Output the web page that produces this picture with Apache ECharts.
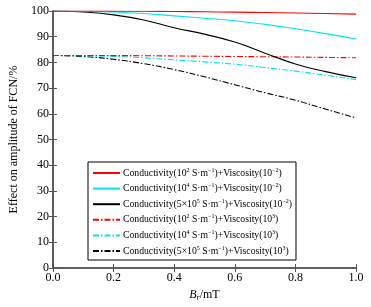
<!DOCTYPE html>
<html>
<head>
<meta charset="utf-8">
<script src="https://cdn.jsdelivr.net/npm/echarts@6/dist/echarts.min.js"></script>
<style>
  html, body { margin: 0; padding: 0; background: #fff; }
  #chart { width: 371px; height: 307px; }
</style>
</head>
<body>
<div id="chart"></div>
<script>
// B_r values (mT)
const br = [0, 0.1, 0.2, 0.3, 0.4, 0.5, 0.6, 0.7, 0.8, 0.9, 1.0];

// effect on amplitude of FCN (%)
const redSolid = [100, 100, 99.95, 99.9, 99.8, 99.7, 99.55, 99.4, 99.2, 99.0, 98.8];
const cyanSolid = [100, 99.9, 99.6, 99.0, 98.1, 97.2, 96.2, 94.8, 93.1, 91.2, 89.1];
const blackSolid = [100, 99.6, 98.5, 96.5, 93.5, 91.0, 87.9, 83.6, 79.4, 76.4, 74.0];
const redDash = [82.7, 82.7, 82.65, 82.6, 82.5, 82.4, 82.3, 82.2, 82.1, 81.95, 81.8];
const cyanDash = [82.7, 82.6, 82.3, 81.8, 81.0, 80.2, 79.3, 78.0, 76.6, 75.0, 73.3];
const blackDash = [82.7, 82.3, 81.2, 79.5, 77.2, 74.4, 71.3, 68.2, 65.3, 61.8, 58.4];

const legendNames = [
  "Conductivity(10{s|2} S·m{s|−1})+Viscosity(10{s|−2})",
  "Conductivity(10{s|4} S·m{s|−1})+Viscosity(10{s|−2})",
  "Conductivity(5×10{s|5} S·m{s|−1})+Viscosity(10{s|−2})",
  "Conductivity(10{s|2} S·m{s|−1})+Viscosity(10{s|3})",
  "Conductivity(10{s|4} S·m{s|−1})+Viscosity(10{s|3})",
  "Conductivity(5×10{s|5} S·m{s|−1})+Viscosity(10{s|3})"
];
const colors = ["#ff0000", "#00e5ee", "#000000", "#ff0000", "#00e5ee", "#000000"];
const allData = [redSolid, cyanSolid, blackSolid, redDash, cyanDash, blackDash];

const font = "'Liberation Serif', 'Times New Roman', serif";
const dashDot = [6, 2, 1.5, 2];

const chart = echarts.init(document.getElementById("chart"));

const series = allData.map((vals, i) => ({
  name: legendNames[i],
  type: "line",
  data: br.map((x, j) => [x, vals[j]]),
  smooth: true,
  symbol: "none",
  lineStyle: { color: colors[i], width: 1.1, type: i < 3 ? "solid" : dashDot },
  itemStyle: { color: colors[i] },
  z: 10 - i
}));

const axisLine = { show: true, lineStyle: { color: "#555", width: 1.5 } };
const tick = { show: true, inside: true, length: 4, lineStyle: { color: "#555" } };

chart.setOption({
  animation: false,
  grid: { left: 43, right: 15, top: 11, bottom: 30 },
  legend: {
    orient: "vertical",
    left: 88,
    top: 162,
    itemWidth: 27,
    itemHeight: 8,
    itemGap: 4.6,
    padding: [5, 4, 4, 4],
    borderColor: "#000",
    borderWidth: 1,
    backgroundColor: "#fff",
    itemStyle: { color: "transparent", borderWidth: 0, opacity: 0 },
    textStyle: {
      fontFamily: font,
      fontSize: 9.7,
      color: "#000",
      padding: [0, 0, 0, -2],
      rich: {
        s: { fontFamily: font, fontSize: 6, color: "#000", verticalAlign: "top", padding: [0, 0, 6, 0] }
      }
    },
    data: legendNames
  },
  xAxis: [
    {
      type: "value",
      min: 0,
      max: 1,
      interval: 0.2,
      name: "{i|B}{sub|r}{n|/mT}",
      nameLocation: "middle",
      nameGap: 20,
      nameTextStyle: {
        rich: {
          i: { fontFamily: font, fontStyle: "italic", fontSize: 12, color: "#000" },
          sub: { fontFamily: font, fontStyle: "italic", fontSize: 8, color: "#000", padding: [6, 0, 0, 0] },
          n: { fontFamily: font, fontSize: 12, color: "#000" }
        }
      },
      axisLine: axisLine,
      axisTick: tick,
      axisLabel: {
        fontFamily: font,
        fontSize: 12,
        color: "#000",
        margin: 4,
        formatter: (v) => v.toFixed(1)
      },
      splitLine: { show: false }
    },
    {
      type: "value",
      position: "top",
      min: 0,
      max: 1,
      interval: 0.2,
      axisLine: axisLine,
      axisTick: tick,
      axisLabel: { show: false },
      splitLine: { show: false }
    }
  ],
  yAxis: [
    {
      type: "value",
      min: 0,
      max: 100,
      interval: 10,
      name: "Effect on amplitude of FCN/%",
      nameLocation: "middle",
      nameGap: 26,
      nameTextStyle: { fontFamily: font, fontSize: 12, color: "#000" },
      axisLine: axisLine,
      axisTick: tick,
      axisLabel: { fontFamily: font, fontSize: 12, color: "#000", margin: 4 },
      splitLine: { show: false }
    },
    {
      type: "value",
      position: "right",
      min: 0,
      max: 100,
      interval: 10,
      axisLine: axisLine,
      axisTick: tick,
      axisLabel: { show: false },
      splitLine: { show: false }
    }
  ],
  series: series
});
</script>
</body>
</html>
